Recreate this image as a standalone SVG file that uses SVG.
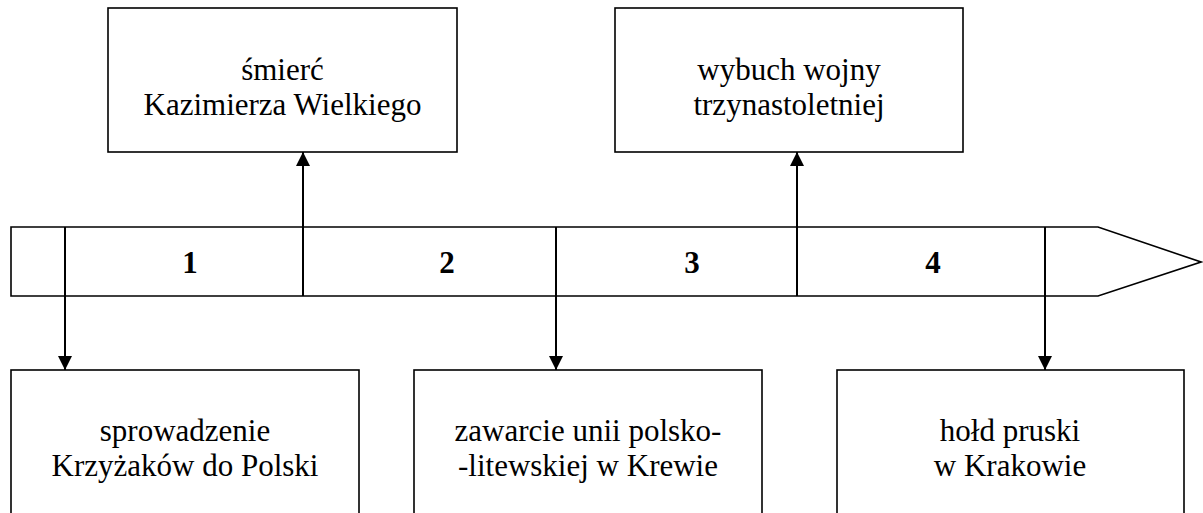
<svg xmlns="http://www.w3.org/2000/svg" width="1203" height="513" viewBox="0 0 1203 513">
<style>
.box{fill:#fff;stroke:#000;stroke-width:1.6}
.t{font-family:'Liberation Serif','Times New Roman',serif;font-size:31px;text-anchor:middle;fill:#000}
.n{font-family:'Liberation Serif','Times New Roman',serif;font-size:31px;font-weight:bold;text-anchor:middle;fill:#000}
.c{stroke:#000;stroke-width:2;fill:none}
</style>
<defs>
<marker id="ah" viewBox="0 0 14 14" refX="14" refY="7" markerWidth="14" markerHeight="14" markerUnits="userSpaceOnUse" orient="auto">
<path d="M0,0 L14,7 L0,14 Z" fill="#000"/>
</marker>
</defs>
<g id="timeline">
<path class="box" d="M11,227 L1098,227 L1201,262 L1098,296 L11,296 Z"/>
<text class="n" x="190" y="273">1</text>
<text class="n" x="447" y="273">2</text>
<text class="n" x="692" y="273">3</text>
<text class="n" x="933" y="273">4</text>
</g>
<g id="top1">
<rect class="box" x="108" y="8" width="349" height="144"/>
<text class="t" x="282.5" y="80">śmierć</text>
<text class="t" x="282.5" y="115">Kazimierza Wielkiego</text>
</g>
<g id="top2">
<rect class="box" x="615" y="8" width="348" height="144"/>
<text class="t" x="789" y="80">wybuch wojny</text>
<text class="t" x="789" y="115">trzynastoletniej</text>
</g>
<g id="bot1">
<rect class="box" x="11" y="370" width="348" height="160"/>
<text class="t" x="185" y="441">sprowadzenie</text>
<text class="t" x="185" y="476">Krzyżaków do Polski</text>
</g>
<g id="bot2">
<rect class="box" x="414" y="370" width="348" height="160"/>
<text class="t" x="588" y="441">zawarcie unii polsko-</text>
<text class="t" x="588" y="476">-litewskiej w Krewie</text>
</g>
<g id="bot3">
<rect class="box" x="837" y="370" width="347" height="160"/>
<text class="t" x="1010" y="441">hołd pruski</text>
<text class="t" x="1010" y="476">w Krakowie</text>
</g>
<g id="connectors">
<line class="c" x1="65" y1="227" x2="65" y2="370" marker-end="url(#ah)"/>
<line class="c" x1="556" y1="227" x2="556" y2="370" marker-end="url(#ah)"/>
<line class="c" x1="1045" y1="227" x2="1045" y2="370" marker-end="url(#ah)"/>
<line class="c" x1="303" y1="296" x2="303" y2="152" marker-end="url(#ah)"/>
<line class="c" x1="797" y1="296" x2="797" y2="152" marker-end="url(#ah)"/>
</g>
</svg>
